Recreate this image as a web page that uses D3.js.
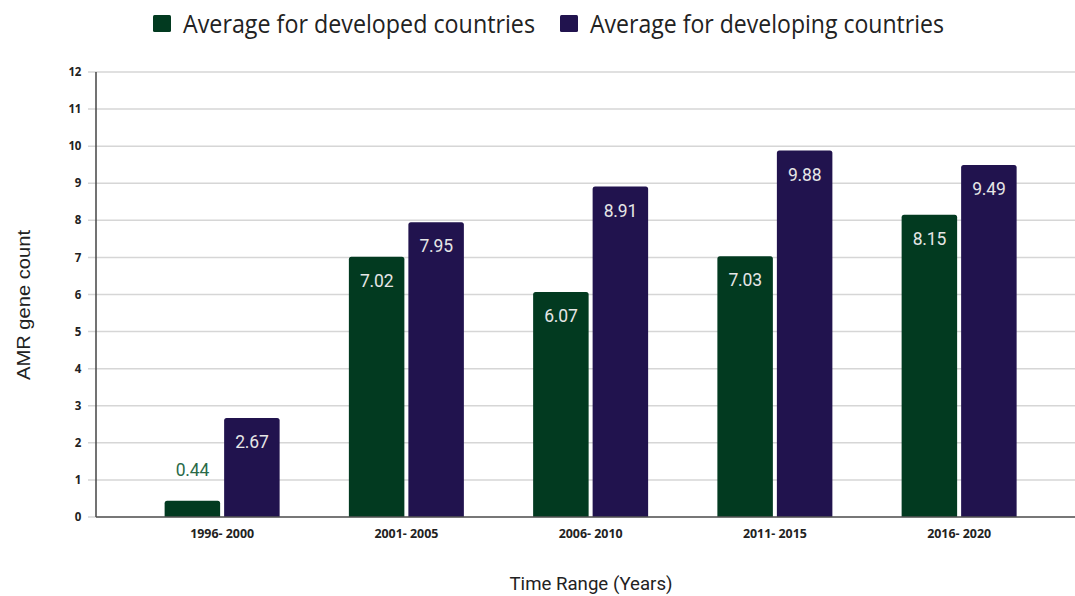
<!DOCTYPE html>
<html>
<head>
<meta charset="utf-8">
<script src="https://cdn.jsdelivr.net/npm/d3@7"></script>
<style>
  html, body { margin: 0; padding: 0; background: #fff; }
  svg { display: block; }
</style>
</head>
<body>
<svg id="chart" width="1075" height="596"></svg>
<script>
// Time ranges and average AMR gene counts per group of countries
const periods = ["1996- 2000", "2001- 2005", "2006- 2010", "2011- 2015", "2016- 2020"];
const developed = [0.44, 7.02, 6.07, 7.03, 8.15];
const developing = [2.67, 7.95, 8.91, 9.88, 9.49];
const seriesNames = ["Average for developed countries", "Average for developing countries"];
const seriesColors = ["#023a20", "#21134e"];
const yTicks = [0, 1, 2, 3, 4, 5, 6, 7, 8, 9, 10, 11, 12];

const W = 1075, H = 596;
const plot = { left: 96, right: 1075, top: 72, bottom: 517 };

const svg = d3.select("#chart");

const y = d3.scaleLinear().domain([0, 12]).range([plot.bottom, plot.top]);
const x = d3.scaleBand().domain(periods).range([130, 1051.25]).padding(0);
const barW = 55.5, barGap = 4;
const sub = d3.scaleOrdinal().domain([0, 1]).range([-(barW + barGap / 2), barGap / 2]);

// gridlines
svg.append("g")
  .selectAll("line")
  .data(yTicks)
  .join("line")
  .attr("x1", plot.left - 8)
  .attr("x2", plot.right)
  .attr("y1", d => y(d))
  .attr("y2", d => y(d))
  .attr("stroke", "#d6d6d6")
  .attr("stroke-width", 1.5);

// y axis tick labels
svg.append("g")
  .selectAll("text")
  .data(yTicks)
  .join("text")
  .attr("x", plot.left - 15)
  .attr("y", d => y(d))
  .attr("dy", "0.36em")
  .attr("text-anchor", "end")
  .attr("font-family", "'Open Sans', 'DejaVu Sans', sans-serif")
  .attr("font-weight", "bold")
  .attr("font-size", 11.5)
  .attr("letter-spacing", -0.3)
  .attr("fill", "#222")
  .text(d => d);

// bars with slightly rounded tops
function topRounded(x0, y0, w, h, r) {
  r = Math.min(r, h);
  return `M${x0},${y0 + h}V${y0 + r}Q${x0},${y0} ${x0 + r},${y0}H${x0 + w - r}Q${x0 + w},${y0} ${x0 + w},${y0 + r}V${y0 + h}Z`;
}

const rows = periods.map((p, i) => ({ period: p, values: [developed[i], developing[i]] }));

const groups = svg.append("g")
  .selectAll("g")
  .data(rows)
  .join("g")
  .attr("transform", d => `translate(${x(d.period) + x.bandwidth() / 2},0)`);

groups.selectAll("path")
  .data(d => d.values.map((v, k) => ({ v, k })))
  .join("path")
  .attr("d", d => topRounded(sub(d.k), y(d.v), barW, y(0) - y(d.v), 2.5))
  .attr("fill", d => seriesColors[d.k]);

// value labels: inside the bar near its top, or above short bars
groups.selectAll("text.val")
  .data(d => d.values.map((v, k) => ({ v, k })))
  .join("text")
  .attr("class", "val")
  .attr("x", d => sub(d.k) + barW / 2)
  .attr("y", d => (y(0) - y(d.v) > 40) ? y(d.v) + 30 : y(d.v) - 25)
  .attr("text-anchor", "middle")
  .attr("font-family", "Roboto, 'Noto Sans', sans-serif")
  .attr("font-size", 17.5)
  .attr("letter-spacing", -0.2)
  .attr("fill", d => (y(0) - y(d.v) > 40) ? "#e6e6e6" : "#2a6a48")
  .text(d => d.v.toFixed(2));

// axis lines
svg.append("line")
  .attr("x1", plot.left).attr("x2", plot.left)
  .attr("y1", plot.top).attr("y2", plot.bottom)
  .attr("stroke", "#444").attr("stroke-width", 1.5);
svg.append("line")
  .attr("x1", plot.left).attr("x2", plot.right)
  .attr("y1", plot.bottom).attr("y2", plot.bottom)
  .attr("stroke", "#555").attr("stroke-width", 1.5);

// x tick labels
svg.append("g")
  .selectAll("text")
  .data(periods)
  .join("text")
  .attr("x", d => x(d) + x.bandwidth() / 2)
  .attr("y", 538)
  .attr("text-anchor", "middle")
  .attr("font-family", "'Open Sans', 'DejaVu Sans', sans-serif")
  .attr("font-weight", "bold")
  .attr("font-size", 12.5)
  .attr("textLength", 64)
  .attr("lengthAdjust", "spacingAndGlyphs")
  .attr("fill", "#222")
  .text(d => d);

// axis titles
svg.append("text")
  .attr("x", 591)
  .attr("y", 590)
  .attr("text-anchor", "middle")
  .attr("font-family", "Roboto, 'Liberation Sans', sans-serif")
  .attr("font-size", 18.5)
  .attr("textLength", 163)
  .attr("lengthAdjust", "spacingAndGlyphs")
  .attr("fill", "#222")
  .text("Time Range (Years)");

svg.append("text")
  .attr("transform", "translate(30,305) rotate(-90)")
  .attr("text-anchor", "middle")
  .attr("font-family", "'Liberation Sans', Arial, sans-serif")
  .attr("font-size", 18)
  .attr("textLength", 150)
  .attr("lengthAdjust", "spacingAndGlyphs")
  .attr("fill", "#222")
  .text("AMR gene count");

// legend
const legendItems = [
  { x: 153, textX: 183, width: 352 },
  { x: 560, textX: 590, width: 354 }
];
const legend = svg.append("g")
  .selectAll("g")
  .data(seriesNames)
  .join("g");
legend.append("rect")
  .attr("x", (d, i) => legendItems[i].x)
  .attr("y", 15)
  .attr("width", 18)
  .attr("height", 17)
  .attr("rx", 1.5)
  .attr("fill", (d, i) => seriesColors[i]);
legend.append("text")
  .attr("x", (d, i) => legendItems[i].textX)
  .attr("y", 32.5)
  .attr("font-family", "'Open Sans', sans-serif")
  .attr("font-size", 25)
  .attr("fill", "#222")
  .attr("textLength", (d, i) => legendItems[i].width)
  .attr("lengthAdjust", "spacingAndGlyphs")
  .text(d => d);
</script>
</body>
</html>
